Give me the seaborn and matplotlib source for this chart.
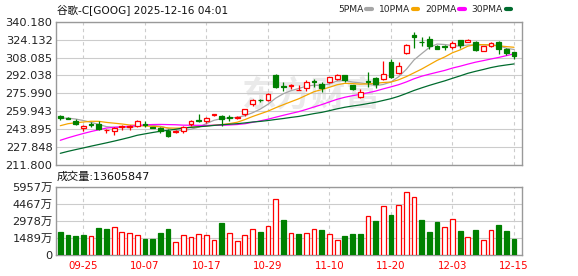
import numpy as np
import pandas as pd
import matplotlib
matplotlib.use("Agg")
import matplotlib.pyplot as plt
import seaborn as sns
from matplotlib.lines import Line2D

# ---------------- data ----------------
dates = ['09-22', '09-23', '09-24', '09-25', '09-26', '09-29', '09-30', '10-01', '10-02', '10-03',
         '10-06', '10-07', '10-08', '10-09', '10-10', '10-13', '10-14', '10-15', '10-16', '10-17',
         '10-20', '10-21', '10-22', '10-23', '10-24', '10-27', '10-28', '10-29', '10-30', '10-31',
         '11-03', '11-04', '11-05', '11-06', '11-07', '11-10', '11-11', '11-12', '11-13', '11-14',
         '11-17', '11-18', '11-19', '11-20', '11-21', '11-24', '11-25', '11-26', '11-28', '12-01',
         '12-02', '12-03', '12-04', '12-05', '12-08', '12-09', '12-10', '12-11', '12-12', '12-15']

opens = [255.5, 254.3, 251.6, 245.3, 248.4, 248.3, 242.9, 241.9, 245.6, 245.9,
         247.0, 248.2, 245.9, 245.1, 242.4, 241.6, 242.2, 248.4, 252.0, 251.2,
         256.2, 255.6, 254.8, 254.0, 257.8, 266.5, 270.4, 269.8, 292.0, 282.5,
         282.8, 278.9, 280.5, 286.8, 284.6, 285.8, 288.8, 292.4, 283.4, 272.4,
         287.5, 289.4, 288.6, 304.0, 294.5, 311.8, 328.3, 322.4, 324.4, 318.4,
         318.0, 317.2, 323.8, 322.0, 321.7, 314.2, 318.4, 322.0, 315.7, 312.8]
highs = [256.7, 255.2, 252.8, 247.7, 250.0, 251.6, 244.2, 246.0, 247.4, 247.4,
         251.9, 251.6, 246.2, 245.9, 243.8, 243.3, 246.9, 252.4, 257.5, 254.6,
         257.6, 256.6, 256.3, 255.4, 262.2, 270.5, 271.3, 276.0, 293.0, 286.4,
         284.5, 283.2, 287.6, 289.0, 285.8, 291.0, 293.2, 292.6, 283.6, 279.5,
         294.8, 291.0, 305.2, 306.8, 304.0, 320.5, 330.7, 326.2, 327.2, 319.0,
         319.4, 323.2, 324.0, 325.0, 322.9, 318.8, 322.3, 323.0, 316.5, 313.2]
lows = [252.5, 252.8, 247.4, 242.6, 246.0, 243.0, 240.2, 239.0, 243.6, 242.9,
        246.0, 246.0, 244.6, 240.5, 237.0, 240.5, 240.9, 246.9, 250.3, 249.8,
        255.7, 246.5, 251.2, 253.2, 255.7, 265.0, 268.3, 269.0, 281.0, 278.0,
        280.1, 278.6, 278.0, 281.5, 277.6, 285.0, 287.6, 286.0, 278.6, 271.8,
        281.9, 280.7, 288.0, 289.5, 293.0, 310.8, 316.8, 318.7, 315.4, 315.3,
        314.8, 315.5, 316.5, 321.6, 313.7, 313.7, 317.6, 311.5, 310.5, 306.5]
closes = [253.7, 253.4, 248.3, 246.8, 247.8, 244.4, 243.6, 245.2, 246.4, 246.8,
          251.0, 247.3, 245.1, 242.4, 238.0, 242.4, 245.5, 251.2, 251.5, 254.1,
          257.1, 253.1, 253.6, 254.6, 261.6, 270.0, 269.6, 275.1, 281.9, 281.5,
          283.9, 279.3, 285.8, 286.1, 280.5, 290.6, 292.3, 287.6, 279.5, 276.9,
          286.0, 284.2, 293.2, 290.5, 300.5, 319.3, 326.2, 321.6, 318.0, 315.7,
          317.2, 321.4, 319.0, 323.6, 315.0, 318.4, 321.4, 315.4, 311.8, 309.4]
# volume in 万 shares
volumes = [1985, 1723, 1635, 1723, 1635, 2336, 2248, 2424, 2044, 1956,
           1781, 1372, 1372, 1898, 2248, 1168, 1723, 1548, 1869, 1723,
           1343, 2774, 1956, 1256, 1781, 2307, 1985, 2570, 4935, 3037,
           1956, 1810, 1956, 2307, 2161, 1869, 1343, 1635, 1810, 1810,
           3446, 2949, 4322, 3475, 4410, 5548, 5110, 3037, 1985, 2862,
           2424, 3183, 2073, 1548, 2161, 1343, 2219, 2599, 2073, 1361]
# closes before the visible window (estimated from the moving-average lines)
prior_closes = [200.5, 201.0, 202.0, 200.5, 200.0, 199.0, 198.5, 197.5, 196.0, 194.0,
                209.5, 208.5, 209.0, 212.5, 213.5, 212.0, 232.5, 236.0, 238.0, 237.5,
                235.5, 239.5, 240.5, 241.0, 245.1, 253.0, 252.2, 253.5, 256.0]

ma_windows = [5, 10, 20, 30]
ma_labels = ['5PMA', '10PMA', '20PMA', '30PMA']
ma_colors = ['#a6a6a6', '#f5a500', '#ff00ff', '#006b2e']
tick_dates = ['09-25', '10-07', '10-17', '10-29', '11-10', '11-20', '12-03', '12-15']
price_ticks = [211.800, 227.848, 243.895, 259.943, 275.990, 292.038, 308.085, 324.132, 340.180]
price_tick_labels = ['211.800', '227.848', '243.895', '259.943', '275.990', '292.038',
                     '308.085', '324.132', '340.180']
vol_ticks = [0, 1489, 2978, 4467, 5957]
vol_tick_labels = ['0', '1489万', '2978万', '4467万', '5957万']
title_text = '谷歌-C[GOOG] 2025-12-16 04:01'
vol_title = '成交量:13605847'

# ---------------- derived ----------------
n = len(dates)
x = np.arange(n)
o = np.array(opens); h = np.array(highs); l = np.array(lows); c = np.array(closes)
allc = pd.Series(prior_closes + closes)
df = pd.DataFrame({'x': x})
for w, lab in zip(ma_windows, ma_labels):
    df[lab] = allc.rolling(w).mean().values[-n:]
prev = np.array([prior_closes[-1]] + closes[:-1])

RED = '#ff0000'
GREEN = '#008000'

# ---------------- style ----------------
sns.set_theme(style='white')
plt.rcParams['font.family'] = ['DejaVu Sans', 'Noto Sans CJK SC']
plt.rcParams['axes.unicode_minus'] = False

W, H = 578, 276
fig = plt.figure(figsize=(W / 100, H / 100), dpi=100)
fig.patch.set_facecolor('white')
left, right = 56, 522
ax = fig.add_axes([left / W, 1 - 165 / H, (right - left) / W, (165 - 21.7) / H])
axv = fig.add_axes([left / W, 1 - 255 / H, (right - left) / W, (255 - 187) / H], sharex=ax)

tick_pos = [dates.index(d) for d in tick_dates]

for a in (ax, axv):
    a.set_facecolor('white')
    for s in a.spines.values():
        s.set_color('#999999')
        s.set_linewidth(1.0)
    a.set_xticks(tick_pos)
    a.grid(False)
    for t in tick_pos:
        a.axvline(t, color='#cccccc', lw=0.8, ls=(0, (3, 3)), zorder=0.5)
    a.tick_params(length=0)

# watermark
ax.text(0.40, 0.49, '东方财富', transform=ax.transAxes, fontsize=25, color='#eaeaea',
        family=['Noto Sans CJK SC'], weight='bold', va='center', ha='left', zorder=0.3)

# price grid
for t in price_ticks:
    ax.axhline(t, color='#cccccc', lw=0.8, zorder=0.5)

# MA lines
for lab, col in zip(ma_labels, ma_colors):
    sns.lineplot(data=df, x='x', y=lab, ax=ax, color=col, lw=0.9, zorder=2, legend=False)

# candles
up = c >= o
cols = np.where(up, RED, GREEN)
ax.vlines(x, l, h, colors=cols, lw=0.9, zorder=3)
body_lo = np.minimum(o, c)
body_h = np.maximum(np.abs(c - o), 0.35)
ax.bar(x, body_h, bottom=body_lo, width=0.62, color=np.where(up, 'white', GREEN),
       edgecolor=cols, linewidth=0.9, zorder=4)

ax.set_xlim(-0.56, n + 0.04)
ax.set_ylim(price_ticks[0], price_ticks[-1])
ax.set_yticks(price_ticks)
ax.set_yticklabels(price_tick_labels)
ax.set_xlabel(''); ax.set_ylabel('')
ax.tick_params(axis='y', pad=2.5, labelsize=8.2, labelcolor='#222222')
ax.tick_params(axis='x', labelbottom=False)

# volume
for t in vol_ticks:
    axv.axhline(t, color='#cccccc', lw=0.8, zorder=0.5)
vup = c >= prev
vcols = np.where(vup, RED, GREEN)
axv.bar(x, volumes, width=0.62, color=np.where(vup, 'white', GREEN), edgecolor=vcols,
        linewidth=0.9, zorder=3)
axv.set_ylim(0, vol_ticks[-1])
axv.set_yticks(vol_ticks)
axv.set_yticklabels(vol_tick_labels)
axv.set_xticklabels(tick_dates)
axv.tick_params(axis='y', pad=2.5, labelsize=8.2, labelcolor='#222222')
axv.tick_params(axis='x', pad=4.5, labelsize=7.4, labelcolor=RED)
axv.set_xlabel(''); axv.set_ylabel('')

# texts
fig.text(57 / W, 1 - 9.5 / H, title_text, fontsize=7.6, va='center', ha='left', color='#111111')
fig.text(57 / W, 1 - 177 / H, vol_title, fontsize=8, va='center', ha='left', color='#111111')

handles = [Line2D([0], [0], color=col, lw=3) for col in ma_colors]
fig.legend(handles, ma_labels, ncol=4, markerfirst=False, loc='center right',
           bbox_to_anchor=(511 / W, 1 - 9.5 / H), frameon=False, handlelength=0.6,
           handletextpad=0.3, columnspacing=0.75, fontsize=6.6, borderpad=0, borderaxespad=0)

fig.savefig('out.png', dpi=100, facecolor='white')
